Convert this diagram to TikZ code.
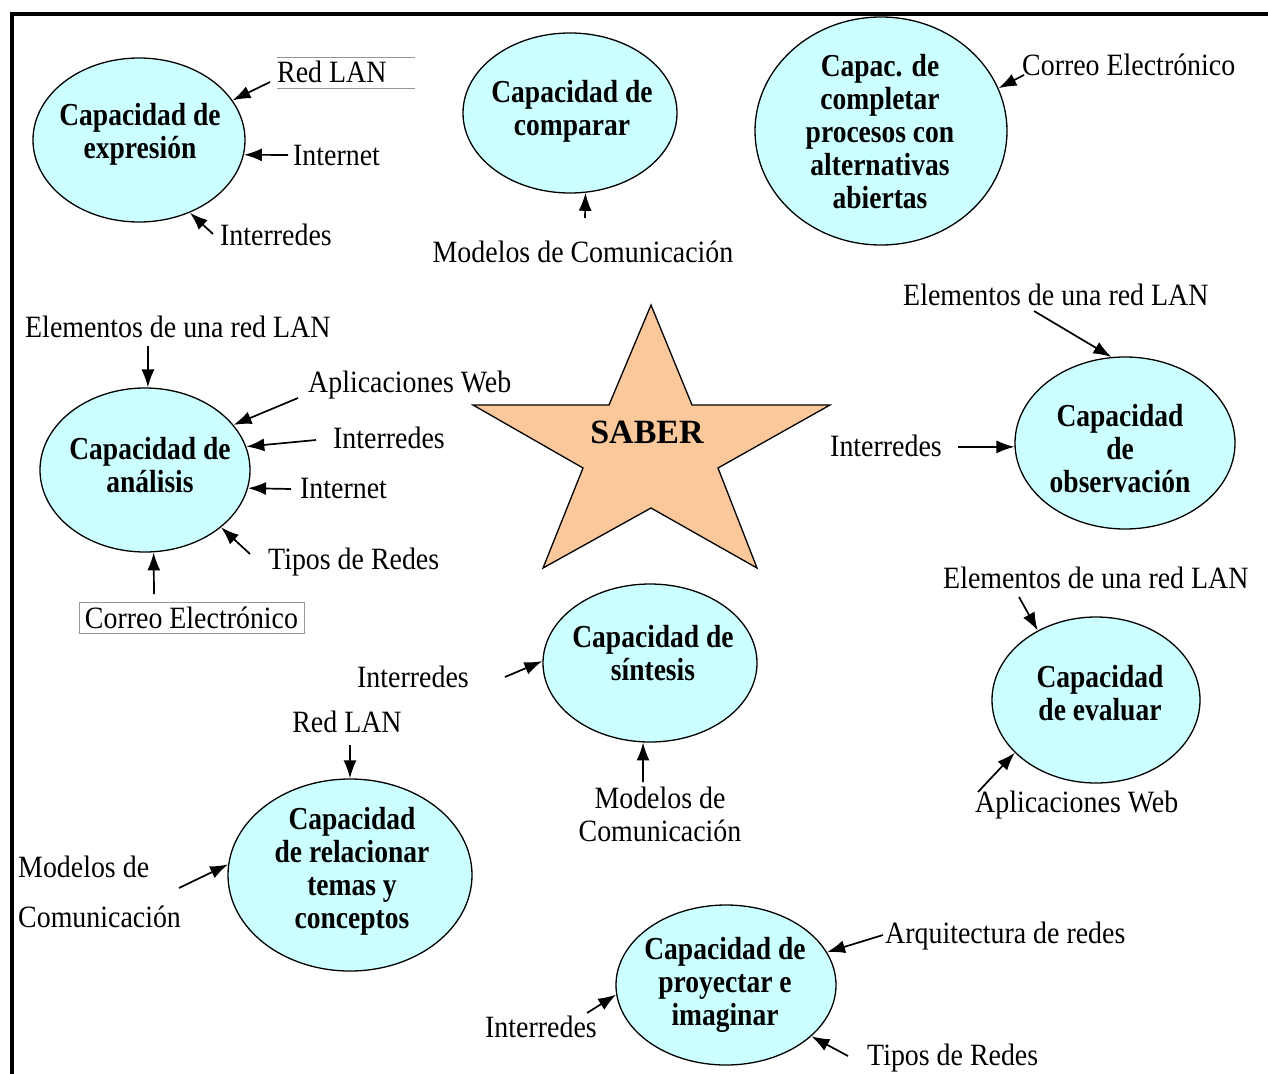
\documentclass[tikz,border=0pt]{standalone}
\usepackage{fontspec}
\setmainfont{Liberation Serif}
\newfontfamily\regf{Liberation Serif}[FakeStretch=0.9]
\newfontfamily\bldf{Liberation Serif}[FakeStretch=0.86]
\usetikzlibrary{shapes.geometric,arrows.meta}
\definecolor{cyanfill}{RGB}{204,255,255}
\definecolor{starfill}{RGB}{250,200,155}
\definecolor{boxgray}{RGB}{150,150,150}
\begin{document}
\begin{tikzpicture}[x=1pt,y=-1pt,
  capnode/.style={ellipse,draw=black,line width=1.3pt,fill=cyanfill,inner sep=0pt},
  lbl/.style={font=\regf\fontsize{31}{36}\selectfont,inner sep=0pt},
  lblw/.style={lbl,anchor=mid west,yshift=-8pt},
  lblc/.style={lbl,anchor=mid,yshift=-8pt},
  ttl/.style={font=\bldf\bfseries\fontsize{32}{33}\selectfont,inner sep=0pt,align=center},
  arr/.style={-{Latex[length=18pt,width=13pt]},line width=1.7pt}]
\useasboundingbox (0,0) rectangle (1268,1073);
\fill[white] (0,0) rectangle (1268,1073);
% frame
\draw[line width=4pt] (12,1075) -- (12,14) -- (1270,14);

% ellipses
\node[capnode,minimum width=212pt,minimum height=164pt] (expr) at (139,140) {};
\node[capnode,minimum width=214pt,minimum height=160pt] (comp) at (570,113) {};
\node[capnode,minimum width=252pt,minimum height=228pt] (compl) at (881,131) {};
\node[capnode,minimum width=210pt,minimum height=164pt] (anal) at (145,470) {};
\node[capnode,minimum width=220pt,minimum height=172pt] (obs) at (1125,443) {};
\node[capnode,minimum width=208pt,minimum height=166pt] (eval) at (1096,700) {};
\node[capnode,minimum width=214pt,minimum height=158pt] (sin) at (650,663) {};
\node[capnode,minimum width=244pt,minimum height=192pt] (rel) at (350,875) {};
\node[capnode,minimum width=220pt,minimum height=160pt] (proy) at (726,985) {};

% star
\draw[fill=starfill,line width=1.3pt,line join=miter]
  (651,305) -- (692,405) -- (830,405) -- (718,468) -- (757,568) -- (651,508)
  -- (543,568) -- (583,468) -- (473,405) -- (609,405) -- cycle;
\node[font=\bfseries\fontsize{34}{36}\selectfont,inner sep=0pt] (saber) at (647,432) {SABER};

% titles
\node[ttl] (exprT) at (140,134) {Capacidad de\\expresión};
\node[ttl] (compT) at (572,111) {Capacidad de\\comparar};
\node[ttl] (complT) at (880,132) {Capac. de\\completar\\procesos con\\alternativas\\abiertas};
\node[ttl] (analT) at (150,465) {Capacidad de\\análisis};
\node[ttl] (obsT) at (1120,449) {Capacidad\\de\\observación};
\node[ttl] (evalT) at (1100,693) {Capacidad\\de evaluar};
\node[ttl] (sinT) at (653,653) {Capacidad de\\síntesis};
\node[ttl] (relT) at (352,871) {Capacidad\\de relacionar\\temas y\\conceptos};
\node[ttl] (proyT) at (725,985) {Capacidad de\\proyectar e\\imaginar};

% labels
\node[lblw] (l1) at (277,72) {Red LAN};
\draw[boxgray,line width=1pt] (277,58) -- (415,58) (277,88) -- (415,88);
\node[lblw] (l2) at (293,155) {Internet};
\node[lblw] (l3) at (220,235) {Interredes};
\node[lblc] (l4) at (583,252) {Modelos de Comunicación};
\node[lblw] (l5) at (1022,65) {Correo Electrónico};
\node[lblw] (l6) at (25,327) {Elementos de una red LAN};
\node[lblw] (l7) at (308,382) {Aplicaciones Web};
\node[lblw] (l8) at (333,438) {Interredes};
\node[lblw] (l9) at (300,488) {Internet};
\node[lblw] (l10) at (268,559) {Tipos de Redes};
\node[lbl,draw=boxgray,line width=1pt,minimum width=225pt,minimum height=31pt] (l11) at (191.5,617.5) {Correo Electrónico};
\node[lblw] (l12) at (903,295) {Elementos de una red LAN};
\node[lblw] (l13) at (830,446) {Interredes};
\node[lblw] (l14) at (943,578) {Elementos de una red LAN};
\node[lblw] (l15) at (975,802) {Aplicaciones Web};
\node[lblw] (l16) at (357,677) {Interredes};
\node[lbl,align=center,font=\regf\fontsize{31}{33}\selectfont] (l17) at (660,814) {Modelos de\\Comunicación};
\node[lblc] (l18) at (347,722) {Red LAN};
\node[lbl,align=left,anchor=north west,font=\regf\fontsize{31}{50}\selectfont] (l19) at (18,856) {Modelos de\\Comunicación};
\node[lblw] (l20) at (885,933) {Arquitectura de redes};
\node[lblw] (l21) at (485,1027) {Interredes};
\node[lblw] (l22) at (867,1055) {Tipos de Redes};

% arrow tails
\coordinate (t1) at (270,82);
\coordinate (t2) at (288,155);
\coordinate (t3) at (213,234);
\coordinate (t4) at (585,218);
\coordinate (t5) at (1024,75);
\coordinate (t6) at (148,346);
\coordinate (t7) at (298,398);
\coordinate (t8) at (316,440);
\coordinate (t9) at (291,489);
\coordinate (t10) at (250,554);
\coordinate (t11) at (154,594);
\coordinate (t12) at (1034,311);
\coordinate (t13) at (958,447);
\coordinate (t14) at (1019,597);
\coordinate (t15) at (978,792);
\coordinate (t16) at (505,677);
\coordinate (t17) at (643,782);
\coordinate (t18) at (350,745);
\coordinate (t19) at (179,888);
\coordinate (t20) at (883,935);
\coordinate (t21) at (587,1013);
\coordinate (t22) at (848,1056);

% arrows
\draw[arr] (t1) -- (expr.23);
\draw[arr] (t2) -- (expr.-8);
\draw[arr] (t3) -- (expr.-55);
\draw[arr] (t4) -- (comp.-79);
\draw[arr] (t5) -- (compl.20);
\draw[arr] (t6) -- (anal.88);
\draw[arr] (t7) -- (anal.27);
\draw[arr] (t8) -- (anal.13);
\draw[arr] (t9) -- (anal.-10);
\draw[arr] (t10) -- (anal.-37);
\draw[arr] (t11) -- (anal.-84);
\draw[arr] (t12) -- (obs.99);
\draw[arr] (t13) -- (obs.182);
\draw[arr] (t14) -- (eval.130);
\draw[arr] (t15) -- (eval.-147);
\draw[arr] (t16) -- (sin.179);
\draw[arr] (t17) -- (sin.-95);
\draw[arr] (t18) -- (rel.90);
\draw[arr] (t19) -- (rel.175);
\draw[arr] (t20) -- (proy.18);
\draw[arr] (t21) -- (proy.185);
\draw[arr] (t22) -- (proy.-31);
\end{tikzpicture}
\end{document}
